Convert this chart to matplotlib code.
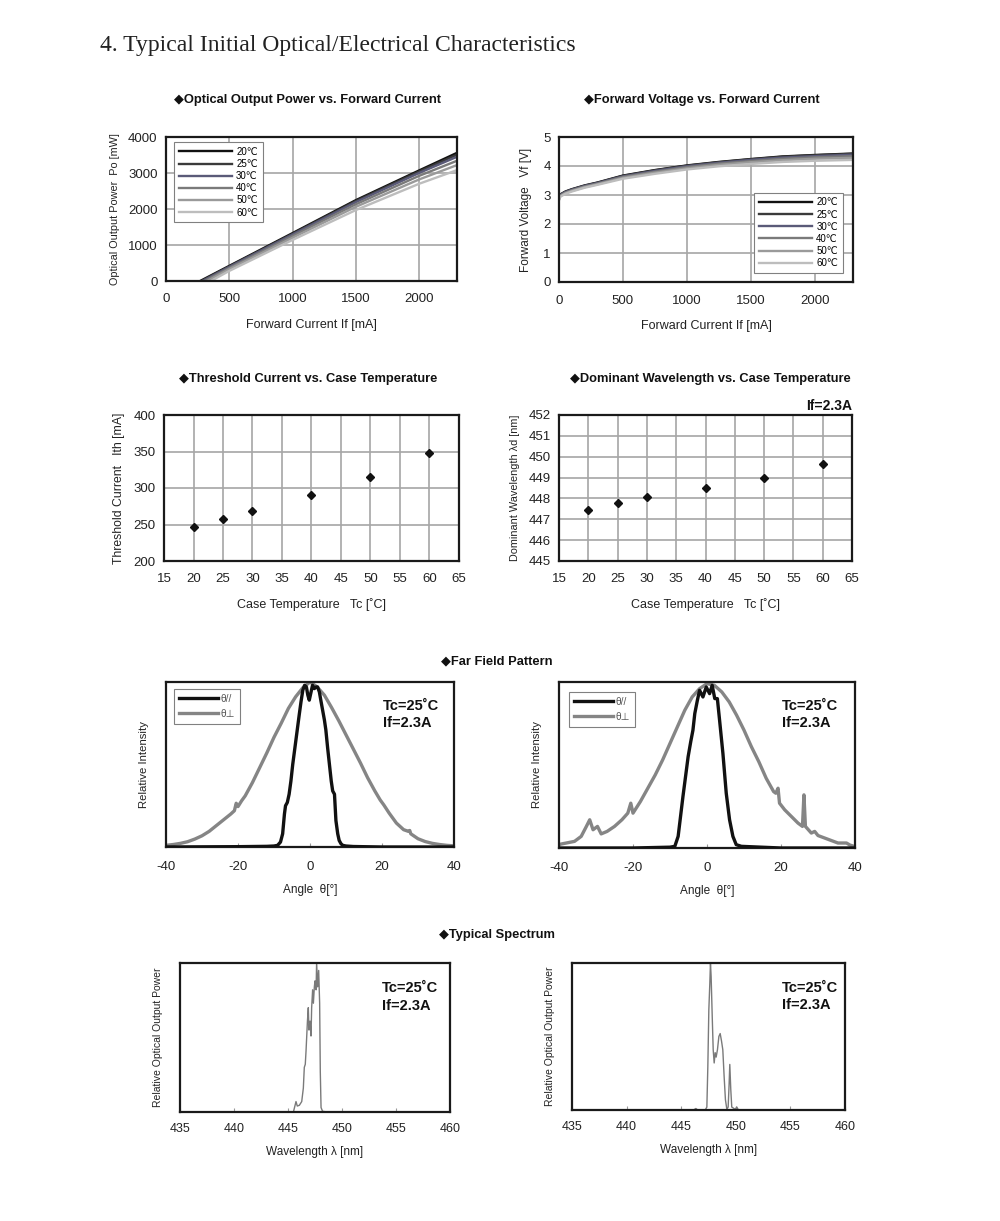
import matplotlib
matplotlib.use("Agg")
import matplotlib.pyplot as plt
from matplotlib import font_manager

W, H = 1000, 1221

installed = {f.name for f in font_manager.fontManager.ttflist}
NARROW = 'Liberation Sans Narrow' if 'Liberation Sans Narrow' in installed else 'Liberation Sans'
SANS = ['Liberation Sans', 'DejaVu Sans']
TITLE_FONT = [NARROW, 'DejaVu Sans']

plt.rcParams['font.family'] = SANS
plt.rcParams['axes.unicode_minus'] = False

# ---------------- data ----------------
temps = ['20℃', '25℃', '30℃', '40℃', '50℃', '60℃']
temp_colors = ['#111111', '#3a3a3a', '#5a5a78', '#7a7a7a', '#9a9a9a', '#bdbdbd']

# optical output power vs forward current
po_ith = [270, 280, 290, 305, 325, 355]
po_current = [500, 1000, 1500, 2000, 2300]
po_20 = [420, 1330, 2245, 3070, 3560]
po_25 = [405, 1310, 2220, 3040, 3510]
po_30 = [390, 1290, 2190, 3000, 3450]
po_40 = [360, 1250, 2130, 2920, 3340]
po_50 = [330, 1200, 2060, 2820, 3220]
po_60 = [280, 1140, 1970, 2700, 3080]

# forward voltage vs forward current
vf_current = [0, 10, 50, 100, 200, 300, 500, 750, 1000, 1250, 1500, 1750, 2000, 2300]
vf_20 = [2.90, 3.02, 3.12, 3.20, 3.33, 3.43, 3.67, 3.86, 4.02, 4.14, 4.24, 4.33, 4.38, 4.43]
vf_25 = [2.89, 3.01, 3.11, 3.19, 3.32, 3.42, 3.66, 3.85, 4.01, 4.13, 4.23, 4.32, 4.37, 4.42]
vf_30 = [2.88, 3.00, 3.10, 3.18, 3.31, 3.41, 3.64, 3.83, 3.99, 4.11, 4.21, 4.29, 4.34, 4.39]
vf_40 = [2.86, 2.98, 3.08, 3.16, 3.29, 3.39, 3.62, 3.80, 3.96, 4.08, 4.17, 4.25, 4.30, 4.34]
vf_50 = [2.84, 2.96, 3.06, 3.14, 3.27, 3.37, 3.59, 3.77, 3.92, 4.04, 4.13, 4.20, 4.25, 4.28]
vf_60 = [2.82, 2.94, 3.04, 3.12, 3.25, 3.35, 3.56, 3.73, 3.88, 3.99, 4.07, 4.14, 4.18, 4.21]

# threshold current / dominant wavelength vs case temperature
case_temp = [20, 25, 30, 40, 50, 60]
ith = [247, 258, 268, 290, 315, 348]
wl_dom = [447.45, 447.8, 448.05, 448.5, 449.0, 449.65]

# far field pattern (left)
ffl_perp_ang = [-40, -38, -36, -34, -32, -30, -28, -26, -24, -22, -21, -20.5, -20, -19, -18, -16, -14,
                -12, -10, -8, -6, -4, -2, 0, 2, 4, 6, 8, 10, 12, 14, 16, 18, 19.5, 20, 20.5, 22, 24,
                26, 27.3, 27.7, 28, 30, 32, 34, 36, 38, 40]
ffl_perp_val = [0.01, 0.015, 0.022, 0.032, 0.048, 0.068, 0.095, 0.13, 0.165, 0.2, 0.22, 0.265, 0.245,
                0.28, 0.31, 0.39, 0.48, 0.57, 0.665, 0.75, 0.84, 0.91, 0.965, 1.0, 0.97, 0.92, 0.845,
                0.765, 0.68, 0.595, 0.51, 0.42, 0.34, 0.285, 0.27, 0.255, 0.205, 0.145, 0.105, 0.095,
                0.1, 0.08, 0.05, 0.033, 0.022, 0.015, 0.01, 0.007]
ffl_par_ang = [-40, -20, -12, -10, -9, -8.2, -7.6, -7.1, -6.8, -6.3, -5.8, -5.3, -4.8, -4.2, -3.6, -3.0,
               -2.5, -2.0, -1.5, -1.0, -0.6, -0.2, 0.2, 0.7, 1.2, 1.7, 2.1, 2.6, 3.0, 3.5, 4.0, 4.4,
               4.9, 5.4, 5.9, 6.3, 6.8, 7.2, 7.7, 8.1, 8.6, 9.1, 10, 12, 20, 40]
ffl_par_val = [0.0, 0.002, 0.004, 0.006, 0.01, 0.03, 0.08, 0.2, 0.25, 0.27, 0.32, 0.4, 0.5, 0.6, 0.7,
               0.8, 0.88, 0.95, 0.98, 0.97, 0.92, 0.89, 0.93, 0.98, 0.96, 0.97, 0.97, 0.94, 0.89,
               0.83, 0.77, 0.71, 0.6, 0.5, 0.4, 0.34, 0.32, 0.16, 0.08, 0.04, 0.02, 0.01, 0.006,
               0.003, 0.0, 0.0]

# far field pattern (right)
ffr_perp_ang = [-40, -39.4, -35.8, -34, -32.6, -31.7, -30.8, -29.6, -28.6, -27, -25, -23, -21.4, -20.6,
                -20, -18, -16, -14, -12, -10, -8, -6, -4, -2, 0, 2, 4, 6, 8, 10, 12, 14, 16, 18, 18.6,
                19.2, 19.6, 21, 22.8, 24.6, 25.8, 26.2, 26.6, 28.2, 29.1, 30, 31.8, 35.4, 37.7, 38.6,
                40]
ffr_perp_val = [0.02, 0.024, 0.04, 0.07, 0.13, 0.17, 0.11, 0.13, 0.085, 0.1, 0.13, 0.17, 0.21, 0.27,
                0.21, 0.28, 0.36, 0.44, 0.53, 0.63, 0.73, 0.83, 0.91, 0.96, 0.99, 0.98, 0.94, 0.88,
                0.8, 0.71, 0.61, 0.52, 0.42, 0.34, 0.33, 0.36, 0.27, 0.23, 0.19, 0.15, 0.13, 0.32,
                0.13, 0.09, 0.1, 0.075, 0.06, 0.03, 0.03, 0.018, 0.008]
ffr_par_ang = [-40, -20, -10, -8.7, -7.8, -6.5, -5.1, -4.4, -3.8, -3.3, -2.6, -2.0, -1.1, -0.2, 0.7,
               1.4, 2.1, 2.8, 3.4, 4.3, 5.2, 6.1, 7.0, 7.9, 9.3, 20, 40]
ffr_par_val = [0.0, 0.0, 0.005, 0.01, 0.07, 0.31, 0.55, 0.64, 0.71, 0.81, 0.89, 0.95, 0.91, 0.97, 0.93,
               0.98, 0.9, 0.9, 0.77, 0.57, 0.33, 0.17, 0.07, 0.02, 0.01, 0.0, 0.0]

# typical spectrum (left)
spl_wl = [435, 445.5, 445.74, 445.86, 446.05, 446.27, 446.42, 446.51, 446.6, 446.67, 446.8, 446.88,
          446.94, 447.04, 447.13, 447.19, 447.28, 447.35, 447.44, 447.5, 447.6, 447.65, 447.75,
          447.84, 447.93, 447.99, 448.06, 448.2, 448.6, 460]
spl_pw = [0.0, 0.0, 0.07, 0.04, 0.045, 0.07, 0.16, 0.3, 0.32, 0.41, 0.61, 0.7, 0.55, 0.61, 0.51,
          0.7, 0.82, 0.73, 0.84, 0.88, 0.82, 1.0, 0.84, 0.95, 0.73, 0.27, 0.03, 0.005, 0.0, 0.0]

# typical spectrum (right)
spr_wl = [435, 446.13, 446.34, 446.52, 447.2, 447.35, 447.44, 447.53, 447.62, 447.68, 447.74, 447.84,
          447.93, 448.02, 448.11, 448.2, 448.32, 448.45, 448.57, 448.69, 448.81, 448.93, 449.05,
          449.18, 449.3, 449.39, 449.45, 449.54, 449.63, 449.94, 450.09, 450.24, 460]
spr_pw = [0.0, 0.0, 0.01, 0.0, 0.0, 0.02, 0.3, 0.68, 0.86, 1.0, 0.91, 0.64, 0.41, 0.32, 0.39, 0.36,
          0.41, 0.5, 0.52, 0.47, 0.41, 0.23, 0.07, 0.005, 0.02, 0.18, 0.31, 0.14, 0.02, 0.005, 0.02,
          0.0, 0.0]


# ---------------- helpers ----------------
fig = plt.figure(figsize=(10, 12.21), dpi=100)


def add_ax(x0, y0, x1, y1):
    return fig.add_axes([x0 / W, 1 - y1 / H, (x1 - x0) / W, (y1 - y0) / H])


def ftext(x, y, s, **kw):
    fig.text(x / W, 1 - y / H, s, **kw)


def style_grid_ax(ax):
    ax.grid(True, color='#a6a6a6', lw=1.2)
    ax.set_axisbelow(True)
    for sp in ax.spines.values():
        sp.set_linewidth(1.6)
        sp.set_color('#1a1a1a')
    ax.tick_params(length=0, labelsize=9.5, colors='#222222')
    ax.tick_params(axis='x', pad=9)
    ax.tick_params(axis='y', pad=6)


def style_plain_ax(ax, labelsize=9.5, pad=11):
    for sp in ax.spines.values():
        sp.set_linewidth(1.6)
        sp.set_color('#1a1a1a')
    ax.set_yticks([])
    ax.tick_params(axis='x', direction='in', length=3, width=0.8, color='#999999',
                   labelsize=labelsize, pad=pad, labelcolor='#222222')


def panel_title(x, y, s):
    ftext(x, y, '◆' + s, ha='center', va='center', fontsize=9.3, fontweight='bold',
          family=TITLE_FONT, color='#111111')


def legend_box(ax, **kw):
    leg = ax.legend(borderaxespad=0, fancybox=False, edgecolor='#808080', framealpha=1, **kw)
    leg.get_frame().set_linewidth(0.8)
    return leg


ftext(100, 45, '4. Typical Initial Optical/Electrical Characteristics',
      family=['Liberation Serif', 'DejaVu Serif'], fontsize=17, va='center', color='#222222')

# ---------------- optical output power ----------------
ax1 = add_ax(166, 137, 457, 281)
po_sets = [po_20, po_25, po_30, po_40, po_50, po_60]
for t, c, th, vals in zip(temps, temp_colors, po_ith, po_sets):
    ax1.plot([th] + po_current, [0] + vals, color=c, lw=1.7, label=t)
ax1.set_xlim(0, 2300)
ax1.set_ylim(0, 4000)
ax1.set_xticks([0, 500, 1000, 1500, 2000])
ax1.set_yticks([0, 1000, 2000, 3000, 4000])
style_grid_ax(ax1)
ax1.set_xlabel('Forward Current If [mA]', fontsize=9, labelpad=10, color='#222222')
ax1.set_ylabel('Optical Output Power  Po [mW]', fontsize=7.8, labelpad=6, color='#222222')
legend_box(ax1, loc='upper left', bbox_to_anchor=(0.027, 0.965), fontsize=7, handlelength=5.5,
           labelspacing=0.22, borderpad=0.5, handletextpad=0.4)
panel_title(307, 100, 'Optical Output Power vs. Forward Current')

# ---------------- forward voltage ----------------
ax2 = add_ax(559, 137, 853, 282)
vf_sets = [vf_20, vf_25, vf_30, vf_40, vf_50, vf_60]
for t, c, vals in zip(temps, temp_colors, vf_sets):
    ax2.plot(vf_current, vals, color=c, lw=1.7, label=t)
ax2.set_xlim(0, 2300)
ax2.set_ylim(0, 5)
ax2.set_xticks([0, 500, 1000, 1500, 2000])
ax2.set_yticks([0, 1, 2, 3, 4, 5])
style_grid_ax(ax2)
ax2.set_xlabel('Forward Current If [mA]', fontsize=9, labelpad=10, color='#222222')
ax2.set_ylabel('Forward Voltage   Vf [V]', fontsize=8.5, labelpad=8, color='#222222')
legend_box(ax2, loc='lower right', bbox_to_anchor=(0.966, 0.062), fontsize=7, handlelength=5.5,
           labelspacing=0.22, borderpad=0.5, handletextpad=0.4)
panel_title(702, 100, 'Forward Voltage vs. Forward Current')

# ---------------- threshold current ----------------
ax3 = add_ax(164, 415, 459, 561)
ax3.plot(case_temp, ith, 'D', color='#111111', ms=4)
ax3.set_xlim(15, 65)
ax3.set_ylim(200, 400)
ax3.set_xticks(range(15, 66, 5))
ax3.set_yticks(range(200, 401, 50))
style_grid_ax(ax3)
ax3.set_xlabel('Case Temperature   Tc [˚C]', fontsize=9, labelpad=9, color='#222222')
ax3.set_ylabel('Threshold Current   Ith [mA]', fontsize=8.8, labelpad=6, color='#222222')
panel_title(308, 379, 'Threshold Current vs. Case Temperature')

# ---------------- dominant wavelength ----------------
ax4 = add_ax(559, 415, 852, 561)
ax4.plot(case_temp, wl_dom, 'D', color='#111111', ms=4)
ax4.set_xlim(15, 65)
ax4.set_ylim(445, 452)
ax4.set_xticks(range(15, 66, 5))
ax4.set_yticks(range(445, 453))
style_grid_ax(ax4)
ax4.set_xlabel('Case Temperature   Tc [˚C]', fontsize=9, labelpad=9, color='#222222')
ax4.set_ylabel('Dominant Wavelength λd [nm]', fontsize=7.8, labelpad=6, color='#222222')
ftext(852, 406, 'If=2.3A', ha='right', va='center', fontsize=10, fontweight='bold', color='#111111')
panel_title(710, 379, 'Dominant Wavelength vs. Case Temperature')

# ---------------- far field pattern ----------------
panel_title(497, 661, 'Far Field Pattern')
ff_axes = [
    (add_ax(166, 682, 454, 847), ffl_par_ang, ffl_par_val, ffl_perp_ang, ffl_perp_val, (0.028, 0.958)),
    (add_ax(559, 682, 855, 848), ffr_par_ang, ffr_par_val, ffr_perp_ang, ffr_perp_val, (0.034, 0.94)),
]
for ax, pa, pv, qa, qv, anchor in ff_axes:
    ax.plot(pa, pv, color='#111111', lw=2.4, label='θ//', zorder=3)
    ax.plot(qa, qv, color='#858585', lw=2.4, label='θ⊥', zorder=2)
    ax.set_xlim(-40, 40)
    ax.set_ylim(0, 1.0)
    ax.set_xticks([-40, -20, 0, 20, 40])
    style_plain_ax(ax, pad=10)
    ax.set_xlabel('Angle  θ[°]', fontsize=8.5, labelpad=8, color='#222222')
    ax.set_ylabel('Relative Intensity', fontsize=8.2, labelpad=12, color='#222222')
    leg = legend_box(ax, loc='upper left', bbox_to_anchor=anchor, fontsize=7.3, handlelength=3.8,
                     labelspacing=0.45, borderpad=0.5, handletextpad=0.25)
    for txt in leg.get_texts():
        txt.set_color('#555555')
    ax.text(0.753, 0.9, 'Tc=25˚C\nIf=2.3A', transform=ax.transAxes, ha='left', va='top',
            fontsize=10.5, fontweight='bold', color='#111111', linespacing=1.35)

# ---------------- typical spectrum ----------------
panel_title(497, 935, 'Typical Spectrum')
sp_axes = [
    (add_ax(180, 963, 450, 1112), spl_wl, spl_pw, 0.748),
    (add_ax(572, 963, 845, 1110), spr_wl, spr_pw, 0.77),
]
for ax, wl, pw, tx in sp_axes:
    ax.plot(wl, pw, color='#7a7a7a', lw=1.0)
    ax.set_xlim(435, 460)
    ax.set_ylim(0, 1.0)
    ax.set_xticks(range(435, 461, 5))
    style_plain_ax(ax, labelsize=9, pad=8)
    ax.set_xlabel('Wavelength λ [nm]', fontsize=8.5, labelpad=8, color='#222222')
    ax.set_ylabel('Relative Optical Output Power', fontsize=7.5, labelpad=12, color='#222222')
    ax.text(tx, 0.88, 'Tc=25˚C\nIf=2.3A', transform=ax.transAxes, ha='left', va='top',
            fontsize=10.5, fontweight='bold', color='#111111', linespacing=1.35)

fig.savefig('out.png', dpi=100, facecolor='white')
